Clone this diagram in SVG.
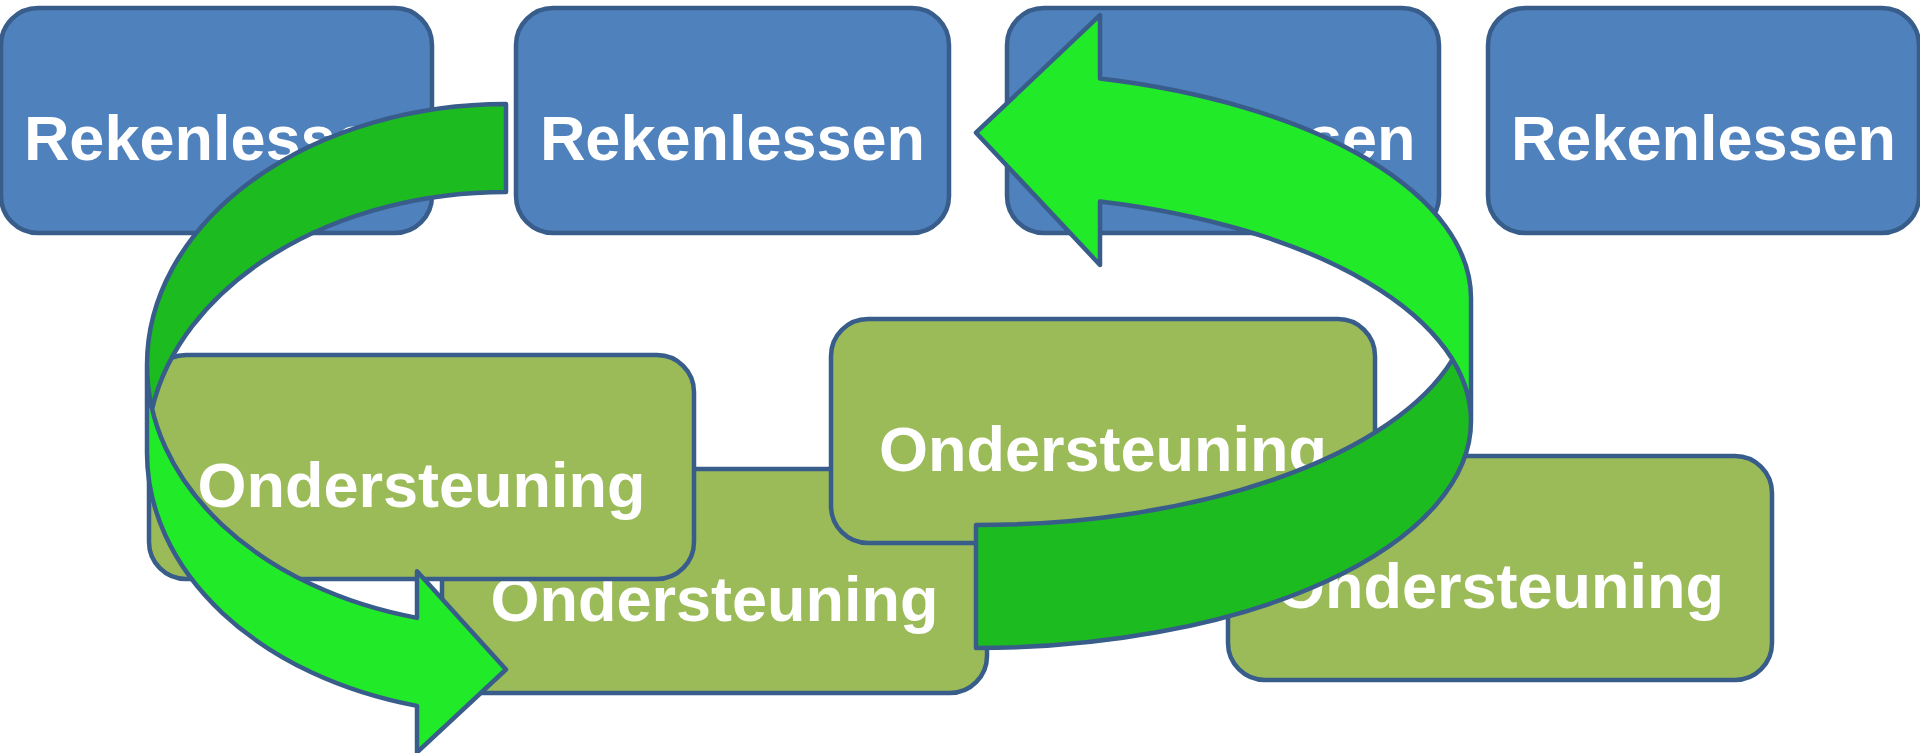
<svg xmlns="http://www.w3.org/2000/svg" width="1920" height="753" viewBox="0 0 1920 753">
<style>
.blue{fill:#4F81BD;stroke:#385D8A;stroke-width:4.5}
.olive{fill:#9BBB59;stroke:#385D8A;stroke-width:4.5}
.lbl{font-family:"Liberation Sans",Arial,sans-serif;font-weight:bold;font-size:63px;fill:#FFFFFF;text-anchor:middle}
.front{fill:#21EB28;stroke:none}
.back{fill:#1CBB20;stroke:none}
.edge{fill:none;stroke:#385D8A;stroke-width:4.5;stroke-linejoin:round}
</style>
<rect width="1920" height="753" fill="#FFFFFF"/>
<g id="rekenlessen-1"><rect class="blue" x="1" y="8" width="431" height="225" rx="37" ry="37"/><text class="lbl" x="216.5" y="160">Rekenlessen</text></g>
<g id="rekenlessen-2"><rect class="blue" x="516" y="8" width="433" height="225" rx="37" ry="37"/><text class="lbl" x="732.5" y="160">Rekenlessen</text></g>
<g id="rekenlessen-3"><rect class="blue" x="1007" y="8" width="432" height="225" rx="37" ry="37"/><text class="lbl" x="1223" y="160">Rekenlessen</text></g>
<g id="rekenlessen-4"><rect class="blue" x="1488" y="8" width="431" height="225" rx="37" ry="37"/><text class="lbl" x="1703.5" y="160">Rekenlessen</text></g>
<g id="ondersteuning-b"><rect class="olive" x="442" y="469" width="545" height="224" rx="37" ry="37"/><text class="lbl" x="714.5" y="621">Ondersteuning</text></g>
<g id="ondersteuning-d"><rect class="olive" x="1228" y="456" width="544" height="224" rx="37" ry="37"/><text class="lbl" x="1500" y="607.5">Ondersteuning</text></g>
<g id="ondersteuning-a"><rect class="olive" x="149" y="355" width="545" height="224" rx="37" ry="37"/><text class="lbl" x="421.5" y="506.5">Ondersteuning</text></g>
<g id="ondersteuning-c"><rect class="olive" x="831" y="319" width="544" height="224" rx="37" ry="37"/><text class="lbl" x="1103" y="470.5">Ondersteuning</text></g>
<g id="connectors">
<g id="arrow-left">
<path class="front" d="M147,365 A359,261 0 0 0 417,617.85 L417,571.35 L506,669.5 L417,752.35 L417,705.85 A359,261 0 0 1 147,453 Z"/>
<path class="back" d="M506,192 A359,261 0 0 0 152.1,409 A359,261 0 0 1 506,104 Z"/>
<path class="edge" d="M147,365 A359,261 0 0 0 417,617.85 L417,571.35 L506,669.5 L417,752.35 L417,705.85 A359,261 0 0 1 147,453 L147,365 A359,261 0 0 1 506,104 L506,192 A359,261 0 0 0 152.1,409"/>
</g>
<g id="arrow-right">
<path class="front" d="M1471,421.1 A495,226.9 0 0 0 1100,201.43 L1100,264.93 L976,132.7 L1100,15.03 L1100,78.53 A495,226.9 0 0 1 1471,298.2 Z"/>
<path class="back" d="M976,525.1 A495,226.9 0 0 0 1452.5,359.65 A495,226.9 0 0 1 976,648 Z"/>
<path class="edge" d="M1471,421.1 A495,226.9 0 0 0 1100,201.43 L1100,264.93 L976,132.7 L1100,15.03 L1100,78.53 A495,226.9 0 0 1 1471,298.2 L1471,421.1 A495,226.9 0 0 1 976,648 L976,525.1 A495,226.9 0 0 0 1452.5,359.65"/>
</g>
</g>
</svg>
